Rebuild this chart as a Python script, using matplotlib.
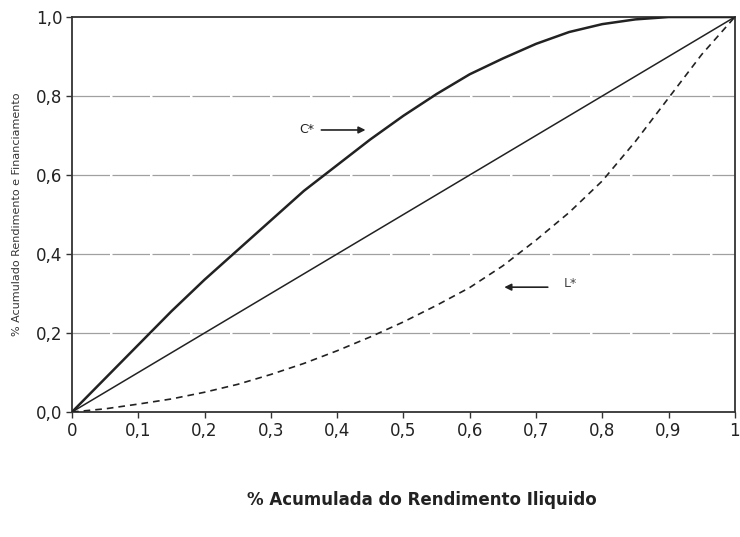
import matplotlib
matplotlib.use("Agg")
import matplotlib.pyplot as plt
from matplotlib.ticker import FuncFormatter

x_vals = [0, .05, .1, .15, .2, .25, .3, .35, .4, .45, .5, .55, .6, .65, .7, .75, .8, .85, .9, .95, 1.0]
c_star = [0, .085, .17, .255, .335, .41, .485, .56, .625, .69, .75, .805, .855, .895, .932, .962, .982, .994, 1.0, 1.0, 1.0]
l_star = [0, .008, .02, .033, .05, .07, .095, .123, .155, .19, .228, .27, .315, .37, .435, .505, .585, .685, .795, .905, 1.0]
equality = [0, 1]

x_ticks = [0, .1, .2, .3, .4, .5, .6, .7, .8, .9, 1]
y_ticks = [0, .2, .4, .6, .8, 1.0]

fig = plt.figure(figsize=(7.4, 5.37), dpi=100)
ax = fig.add_axes([0.0973, 0.2328, 0.8957, 0.7355])

for yt in y_ticks[1:-1]:
    ax.axhline(yt, color="#a0a0a0", lw=0.9, ls=(0, (30, 2)), zorder=1)

ax.plot(x_vals, c_star, color="#222222", lw=1.8, zorder=3)
ax.plot(equality, equality, color="#222222", lw=1.1, zorder=3)
ax.plot(x_vals, l_star, color="#222222", lw=1.2, ls=(0, (4, 3)), zorder=3)

ax.annotate("", xy=(0.447, 0.714), xytext=(0.372, 0.714),
            arrowprops=dict(arrowstyle="-|>", color="#222222", lw=1.2, mutation_scale=10))
ax.text(0.365, 0.714, "C*", ha="right", va="center", fontsize=9, color="#222222")
ax.annotate("", xy=(0.648, 0.316), xytext=(0.722, 0.316),
            arrowprops=dict(arrowstyle="-|>", color="#222222", lw=1.2, mutation_scale=10))
ax.text(0.742, 0.325, "L*", ha="left", va="center", fontsize=9, color="#444444")

ax.set_xlim(0, 1)
ax.set_ylim(0, 1)
ax.set_xticks(x_ticks)
ax.set_yticks(y_ticks)

def fmt_x(v, pos):
    if abs(v) < 1e-9:
        return "0"
    if abs(v - 1) < 1e-9:
        return "1"
    return f"{v:.1f}".replace(".", ",")

def fmt_y(v, pos):
    return f"{v:.1f}".replace(".", ",")

ax.xaxis.set_major_formatter(FuncFormatter(fmt_x))
ax.yaxis.set_major_formatter(FuncFormatter(fmt_y))
ax.tick_params(axis="both", labelsize=12, length=4, width=1, color="#333333", labelcolor="#222222", pad=3)

for side in ["left", "right", "top", "bottom"]:
    ax.spines[side].set_color("#333333")
    ax.spines[side].set_linewidth(1.3)

ax.set_ylabel("% Acumulado Rendimento e Financiamento", fontsize=8, color="#333333", labelpad=10)
fig.text(422 / 740, 1 - 500 / 537, "% Acumulada do Rendimento Iliquido",
         ha="center", va="center", fontsize=12, fontweight="bold", color="#222222")

fig.savefig("out.png", dpi=100)
